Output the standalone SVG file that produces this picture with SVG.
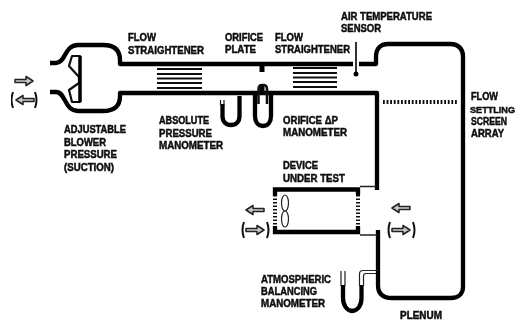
<svg xmlns="http://www.w3.org/2000/svg" width="518" height="322" viewBox="0 0 518 322">
<defs>
<style>
text{font-family:"Liberation Sans",Arial,sans-serif;font-weight:bold;font-size:10.500px;fill:#0a0a0a;stroke:#0a0a0a;stroke-width:.45px}
.w{fill:none;stroke:#050505;stroke-width:4.300;stroke-linecap:butt;stroke-linejoin:round}
.m{fill:none;stroke:#050505;stroke-width:4.300}
.t{fill:none;stroke:#222;stroke-width:1.200}
.s{fill:none;stroke:#111;stroke-width:1.800}
.ar{fill:#ccc;stroke:#222;stroke-width:1.500;stroke-linejoin:round}
.pr{fill:none;stroke:#111;stroke-width:2}
</style>
<filter id="soft" x="0" y="0" width="1" height="1"><feGaussianBlur stdDeviation="0.45"/></filter>
<path id="right" class="ar" d="M0 -1.500H11V-4.500L18 0L11 4.500V1.500H0Z"/>
<path id="left" class="ar" d="M18 -1.500H7V-4.500L0 0L7 4.500V1.500H18Z"/>
</defs>
<rect width="518" height="322" fill="#fff"/>
<g filter="url(#soft)">
<g id="connectors">
<path class="w" d="M50 63H56C66 63 64 45 78 45H103C114 45 120 50 120 60V64H354"/>
<path class="w" d="M50 92H56C66 92 64 111 78 111H103C114 111 120 106 120 96V93H377V190"/>
<path class="w" d="M358 64H376V57C376 49 380 44 388 44H451C458 44 463 49 463 56V287C463 294 458 298 451 298H392C383 298 378 294 378 285V230"/>
<path d="M360 186.500H376M360 235H377" fill="none" stroke="#222" stroke-width="1.500"/>
</g>
<g id="blower">
<path d="M72 56H80V102H72L69 90L79 83V77L69 66Z" fill="#fff" stroke="#111" stroke-width="2.200" stroke-linejoin="round"/>
<path d="M80 56V102" stroke="#000" stroke-width="3.500"/>
</g>
<g id="inlet-arrows">
<use href="#right" x="15" y="81"/>
<use href="#left" x="16" y="100"/>
<path class="pr" d="M13 92Q10 100 13 108M35 92Q38 100 35 108"/>
</g>
<g id="flow-straightener-1">
<path class="s" d="M157 69H202M157 74H202M157 78.500H202M157 83H202M157 88H202"/>
</g>
<g id="orifice-plate">
<path d="M262 64V72M262 93V84" stroke="#000" stroke-width="5"/>
</g>
<g id="flow-straightener-2">
<path class="s" d="M293 68H337M293 73H337M293 77.500H337M293 82H337M293 87H337"/>
</g>
<g id="air-temperature-sensor">
<rect x="353" y="60" width="6" height="7" fill="#fff"/>
<path d="M356 42V74" stroke="#111" stroke-width="1.700"/>
<circle cx="356" cy="74" r="2.500" fill="#000"/>
</g>
<g id="absolute-manometer">
<path class="m" d="M222.500 104V116C222.500 122 226 125 231 125C236 125 239.500 122 239.500 116V96"/>
<path class="t" d="M224 100V105M220.500 100V105"/>
</g>
<g id="orifice-manometer">
<path class="m" d="M255 93V116C255 122 258 126 263 126C268 126 271 122 271 116V93"/>
<path d="M258.500 104V89Q258.500 85 263 85Q267 85 267 89V104" fill="none" stroke="#111" stroke-width="2.500"/>
</g>
<g id="settling-screen">
<path d="M383 102H457" fill="none" stroke="#111" stroke-width="4" stroke-dasharray="1.800 1.800"/>
</g>
<g id="device-under-test">
<path d="M275 196V189.500H358V195M275 226V232H358V226" fill="none" stroke="#050505" stroke-width="4.300"/>
<path d="M275 195V226M358 195V226" fill="none" stroke="#111" stroke-width="4" stroke-dasharray="1.500 2"/>
<ellipse cx="285" cy="203" rx="3.500" ry="8" fill="#fff" stroke="#222" stroke-width="1.200"/>
<ellipse cx="285" cy="219" rx="3.500" ry="8" fill="#fff" stroke="#222" stroke-width="1.200"/>
</g>
<g id="device-arrows">
<use href="#left" x="246" y="210"/>
<use href="#right" x="246" y="230"/>
<path class="pr" d="M244 222Q241 230 244 238M267 222Q270 230 267 238"/>
<use href="#left" x="392" y="208"/>
<use href="#right" x="392" y="230"/>
<path class="pr" d="M390 222Q387 230 390 238M413 222Q416 230 413 238"/>
</g>
<g id="balancing-manometer">
<path class="m" d="M343 285V298C343 305 347 311 352 311C358 311 361.500 305 361.500 298V285"/>
<path class="t" d="M341 271V286M345 271V286"/>
<path d="M359.500 286V274Q359.500 270.500 363 270.500H378M363.500 286V276Q363.500 273.500 366 273.500H376" fill="none" stroke="#222" stroke-width="1.200"/>
</g>
<g id="labels">
<text x="128" y="41" textLength="28" lengthAdjust="spacingAndGlyphs">FLOW</text>
<text x="128" y="54" textLength="76" lengthAdjust="spacingAndGlyphs">STRAIGHTENER</text>
<text x="64" y="133" textLength="62" lengthAdjust="spacingAndGlyphs">ADJUSTABLE</text>
<text x="64" y="146" textLength="42" lengthAdjust="spacingAndGlyphs">BLOWER</text>
<text x="64" y="158" textLength="53" lengthAdjust="spacingAndGlyphs">PRESSURE</text>
<text x="64" y="171" textLength="50" lengthAdjust="spacingAndGlyphs">(SUCTION)</text>
<text x="159" y="124" textLength="50" lengthAdjust="spacingAndGlyphs">ABSOLUTE</text>
<text x="159" y="137" textLength="53" lengthAdjust="spacingAndGlyphs">PRESSURE</text>
<text x="159" y="149" textLength="64" lengthAdjust="spacingAndGlyphs">MANOMETER</text>
<text x="225" y="41" textLength="38" lengthAdjust="spacingAndGlyphs">ORIFICE</text>
<text x="225" y="53" textLength="31" lengthAdjust="spacingAndGlyphs">PLATE</text>
<text x="275" y="41" textLength="28" lengthAdjust="spacingAndGlyphs">FLOW</text>
<text x="275" y="53" textLength="75" lengthAdjust="spacingAndGlyphs">STRAIGHTENER</text>
<text x="341" y="20" textLength="91" lengthAdjust="spacingAndGlyphs">AIR TEMPERATURE</text>
<text x="341" y="32" textLength="40" lengthAdjust="spacingAndGlyphs">SENSOR</text>
<text x="283" y="124" textLength="55" lengthAdjust="spacingAndGlyphs">ORIFICE ΔP</text>
<text x="283" y="136" textLength="64" lengthAdjust="spacingAndGlyphs">MANOMETER</text>
<text x="283" y="169" textLength="35" lengthAdjust="spacingAndGlyphs">DEVICE</text>
<text x="283" y="182" textLength="62" lengthAdjust="spacingAndGlyphs">UNDER TEST</text>
<text x="261" y="283" textLength="70" lengthAdjust="spacingAndGlyphs">ATMOSPHERIC</text>
<text x="261" y="295" textLength="56" lengthAdjust="spacingAndGlyphs">BALANCING</text>
<text x="261" y="307" textLength="64" lengthAdjust="spacingAndGlyphs">MANOMETER</text>
<text x="471" y="100" textLength="27" lengthAdjust="spacingAndGlyphs">FLOW</text>
<text x="470" y="113" style="font-size:9.500px" textLength="45" lengthAdjust="spacingAndGlyphs">SETTLING</text>
<text x="471" y="125" textLength="36" lengthAdjust="spacingAndGlyphs">SCREEN</text>
<text x="471" y="137" textLength="33" lengthAdjust="spacingAndGlyphs">ARRAY</text>
<text x="400" y="319" textLength="42" lengthAdjust="spacingAndGlyphs">PLENUM</text>
</g>
</g>
</svg>
